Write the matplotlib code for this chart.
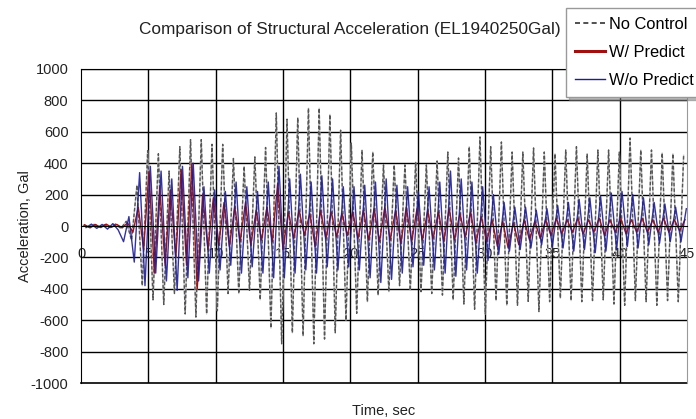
import numpy as np
import matplotlib.pyplot as plt
from matplotlib.lines import Line2D

# sample grid: one value per half cycle of the response (peak, dip, peak, ...)
t_first_peak = 4.95
half_period = 0.398

no_control = [
    5, -8, 10, -6, 8, -10, 12, -15, 30, -90,
    260, -380, 480, -470, 460, -500, 350, -430, 505, -560,
    550, -580, 550, -560, 520, -540, 520, -430, 430, -430,
    380, -410, 440, -470, 500, -650, 720, -750, 680, -680,
    690, -700, 750, -750, 750, -720, 710, -680, 610, -600,
    528, -556, 484, -482, 471, -440, 389, -418, 389, -380,
    389, -410, 407, -418, 389, -430, 414, -440, 471, -470,
    433, -497, 505, -530, 567, -560, 505, -475, 535, -505,
    471, -505, 471, -480, 497, -545, 471, -482, 460, -460,
    484, -475, 505, -482, 460, -475, 484, -470, 484, -497,
    471, -505, 560, -475, 484, -482, 484, -505, 465, -475,
    460, -482, 450,
]

wo_predict = [
    -10, 12, -15, 10, -20, 15, -25, -100, 60, -230,
    340, -380, 380, -300, 350, -350, 300, -410, 380, -330,
    400, -350, 250, -300, 230, -280, 220, -250, 280, -300,
    250, -260, 220, -300, 280, -330, 380, -330, 300, -300,
    330, -280, 280, -300, 320, -260, 300, -280, 250, -260,
    250, -280, 260, -330, 280, -360, 300, -340, 260, -300,
    250, -260, 220, -250, 250, -280, 280, -300, 350, -320,
    300, -280, 280, -300, 250, -220, 200, -180, 150, -160,
    120, -150, 120, -140, 100, -120, 110, -130, 130, -140,
    150, -160, 170, -150, 180, -170, 190, -160, 210, -150,
    220, -130, 200, -140, 180, -120, 150, -110, 140, -100,
    120, -100, 110,
]

w_predict = [
    8, -12, 10, -10, 12, -8, 10, -12, 20, -40,
    120, -150, 350, -300, 250, -250, 230, -200, 360, -250,
    400, -400, 200, -150, 180, -120, 150, -130, 120, -100,
    150, -120, 100, -90, 120, -100, 270, -150, 90, -80,
    100, -60, 80, -130, 100, -80, 90, -70, 80, -60,
    90, -80, 100, -90, 110, -100, 120, -90, 100, -110,
    120, -100, 110, -90, 100, -80, 90, -100, 110, -90,
    80, -70, 90, -110, 60, -100, 40, -130, 30, -140,
    20, -120, 40, -90, 30, -80, 40, -60, 50, -50,
    40, -40, 50, -50, 40, -40, 50, -60, 40, -40,
    50, -50, 40, -40, 50, -40, 40, -40, 50, -40,
    40, -30, 40,
]

k = np.arange(len(no_control)) - 12
t = t_first_peak + half_period * k

plt.rcParams['font.family'] = ['Liberation Sans', 'DejaVu Sans']
plt.rcParams['axes.unicode_minus'] = False
text_color = '#222222'

fig = plt.figure(figsize=(6.96, 4.19), dpi=100)
ax = fig.add_axes([81 / 696, 1 - 383 / 419, 606 / 696, 314 / 419])

# No Control: dashed dark line over a faint grey trace
ax.plot(t, no_control, color='#c4c4c4', lw=1.0, zorder=2)
ax.plot(t, no_control, color='#555555', lw=1.0, dashes=(2.5, 1.5), zorder=2)
ax.plot(t + 0.1, w_predict, color='#a01010', lw=1.0, zorder=3)
ax.plot(t + 0.2, wo_predict, color='#1c1c99', lw=1.0, alpha=0.9, zorder=4)

ax.set_xlim(0, 45)
ax.set_ylim(-1000, 1000)
ax.set_yticks(np.arange(-1000, 1001, 200))
ax.set_xticks(np.arange(0, 46, 5))

for y in np.arange(-800, 1001, 200):
    if y != 0:
        ax.axhline(y, color='black', lw=1, zorder=1)
ax.axhline(-1000, color='black', lw=1.2, zorder=1, clip_on=False)
for x in np.arange(5, 41, 5):
    ax.axvline(x, color='black', lw=1, zorder=1)

ax.spines['bottom'].set_position(('data', 0))
ax.spines['bottom'].set_zorder(5)
ax.spines['left'].set_color('black')
ax.spines['top'].set_color('black')
ax.spines['right'].set_color('#999999')

ax.tick_params(axis='both', length=0, labelsize=10.5, colors=text_color)
ax.tick_params(axis='x', pad=15)
ax.tick_params(axis='y', pad=9)

ax.set_title('Comparison of Structural Acceleration (EL1940250Gal)',
             fontsize=12.4, color=text_color, pad=25, x=(350 - 81) / 606)
ax.set_ylabel('Acceleration, Gal', fontsize=10.5, color=text_color, labelpad=-1)
fig.text(384 / 696, 1 - 411 / 419, 'Time, sec', fontsize=10.5,
         color=text_color, ha='center', va='center')

handles = [
    Line2D([], [], color='#333333', lw=1.2, dashes=(3, 2)),
    Line2D([], [], color='#a01010', lw=2.2),
    Line2D([], [], color='#1c1c99', lw=1.0),
]
fig.legend(handles, ['No Control', 'W/ Predict', 'W/o Predict'],
           loc='upper left', bbox_to_anchor=(566 / 696, 1 - 8 / 419),
           fontsize=11.8, frameon=True, fancybox=False, edgecolor='#999999',
           framealpha=1, handlelength=1.8, handletextpad=0.25,
           labelspacing=0.8, borderpad=0.55, borderaxespad=0,
           shadow={'ox': 2, 'oy': -2, 'color': '#777777'})

fig.savefig('out.png', dpi=100)
